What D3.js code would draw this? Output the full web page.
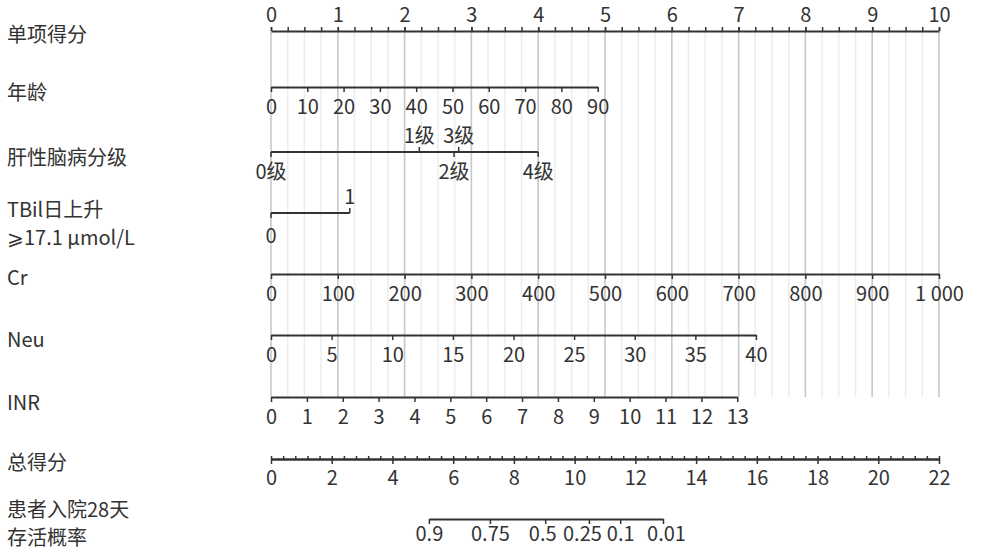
<!DOCTYPE html>
<html>
<head>
<meta charset="utf-8">
<script src="https://cdn.jsdelivr.net/npm/d3@7/dist/d3.min.js"></script>
<style>
  body { margin: 0; background: #fff; }
  svg text { font-family: "Noto Sans CJK SC", "Noto Sans", sans-serif; fill: #333; }
</style>
</head>
<body>
<svg id="chart" width="981" height="552"></svg>
<script>
// ---- data ----
var pointTicks = d3.range(0, 11);           // 单项得分 0..10
var pointMinor = d3.range(0, 10.01, 0.25);

var ageTicks = [0, 10, 20, 30, 40, 50, 60, 70, 80, 90];
var ageDomain = [0, 90], agePoints = [0, 4.89];

var heLevels = ["0级", "1级", "2级", "3级", "4级"];
var hePoints = [0, 2.22, 2.74, 2.81, 4.0];
var heSide   = ["below", "above", "below", "above", "below"];

var tbilLevels = ["0", "1"];
var tbilPoints = [0, 1.18];
var tbilSide   = ["below", "above"];

var crTicks = [0, 100, 200, 300, 400, 500, 600, 700, 800, 900, 1000];
var crDomain = [0, 1000], crPoints = [0, 10];

var neuTicks = [0, 5, 10, 15, 20, 25, 30, 35, 40];
var neuDomain = [0, 40], neuPoints = [0, 7.26];

var inrTicks = d3.range(0, 14);
var inrDomain = [0, 13], inrPoints = [0, 6.98];

var totalTicks = d3.range(0, 23, 2);
var totalMinor = d3.range(0, 22.01, 0.4);

var survProbs  = [0.9, 0.75, 0.5, 0.25, 0.1, 0.01];
var survTotals = [5.20, 7.21, 9.03, 10.47, 11.50, 12.91];

var rowLabels = [
  ["单项得分"], ["年龄"], ["肝性脑病分级"], ["TBil日上升", "⩾17.1 μmol/L"],
  ["Cr"], ["Neu"], ["INR"], ["总得分"], ["患者入院28天", "存活概率"]
];

// ---- layout ----
var rowY = [31, 87, 152, 213, 274, 335, 397, 459, 519];
var labelDy = [11, 13, 13, 4, 11, 12, 13, 11, -2];
var belowDy = [0, 0, 27, 30, 0, 0, 0, 0, 0];
var survLabelShift = [0, 0, -3, -7, 0, 3];
var x0 = 271, x1 = 939;
var fs = 20;

var svg = d3.select("#chart");
var pts = d3.scaleLinear().domain([0, 10]).range([x0, x1]);
var tot = d3.scaleLinear().domain([0, 22]).range([x0, x1]);
var fmt = d3.formatLocale({ decimal: ".", thousands: " ", grouping: [3], currency: ["", ""] }).format(",");

// grid
var grid = svg.append("g");
grid.selectAll("line.minor").data(pointMinor).enter().append("line")
  .attr("x1", d => pts(d)).attr("x2", d => pts(d))
  .attr("y1", rowY[0]).attr("y2", rowY[6])
  .attr("stroke", "#ececec").attr("stroke-width", 1.5);
grid.selectAll("line.major").data(pointTicks).enter().append("line")
  .attr("x1", d => pts(d)).attr("x2", d => pts(d))
  .attr("y1", rowY[0]).attr("y2", rowY[6])
  .attr("stroke", "#c8c8c8").attr("stroke-width", 1.5);

// row labels
rowLabels.forEach(function (lines, i) {
  var t = svg.append("text").attr("x", 7).attr("y", rowY[i] + labelDy[i]).attr("font-size", fs);
  lines.forEach(function (s, j) {
    t.append("tspan").attr("x", 7).attr("dy", j ? 28 : 0).text(s);
  });
});

function styleAxis(g) {
  g.select(".domain").attr("stroke", "#333").attr("stroke-width", 2);
  g.selectAll(".tick line").attr("stroke", "#333").attr("stroke-width", 1.5);
  g.selectAll(".tick text").attr("font-size", fs).attr("fill", "#333")
    .attr("font-family", '"Noto Sans CJK SC", sans-serif');
}

function varAxis(y, scale, ticks, format, pad) {
  var g = svg.append("g").attr("transform", "translate(0," + y + ")")
    .call(d3.axisBottom(scale).tickValues(ticks).tickSize(5).tickSizeOuter(0)
      .tickPadding(pad == null ? 8 : pad)
      .tickFormat(format || (d => d)));
  styleAxis(g);
  return g;
}

// 单项得分 axis
svg.append("g").attr("transform", "translate(0," + rowY[0] + ")")
  .call(d3.axisTop(pts).tickValues(pointMinor).tickSize(4).tickSizeOuter(0).tickFormat(""))
  .call(styleAxis);
svg.append("g").attr("transform", "translate(0," + rowY[0] + ")")
  .call(d3.axisTop(pts).tickValues(pointTicks).tickSize(4).tickSizeOuter(0).tickPadding(5))
  .call(g => { styleAxis(g); g.select(".domain").remove(); });

// 年龄
var ageScale = d3.scaleLinear().domain(ageDomain).range(agePoints.map(pts));
varAxis(rowY[1], ageScale, ageTicks);

// categorical rows
function catAxis(row, levels, points, side) {
  var y = rowY[row];
  var xs = points.map(pts);
  var g = svg.append("g").attr("transform", "translate(0," + y + ")");
  g.append("line").attr("x1", d3.min(xs)).attr("x2", d3.max(xs))
    .attr("stroke", "#333").attr("stroke-width", 2);
  var t = g.selectAll("g.tick").data(levels).enter().append("g")
    .attr("transform", (d, i) => "translate(" + xs[i] + ",0)");
  t.append("line").attr("y2", (d, i) => side[i] === "above" ? -5 : 5)
    .attr("stroke", "#333").attr("stroke-width", 1.5);
  t.append("text").attr("text-anchor", "middle").attr("font-size", fs)
    .attr("y", (d, i) => side[i] === "above" ? -9 : belowDy[row])
    .text(d => d);
}
catAxis(2, heLevels, hePoints, heSide);
catAxis(3, tbilLevels, tbilPoints, tbilSide);

// Cr, Neu, INR
varAxis(rowY[4], d3.scaleLinear().domain(crDomain).range(crPoints.map(pts)), crTicks, fmt);
varAxis(rowY[5], d3.scaleLinear().domain(neuDomain).range(neuPoints.map(pts)), neuTicks);
varAxis(rowY[6], d3.scaleLinear().domain(inrDomain).range(inrPoints.map(pts)), inrTicks);

// 总得分
svg.append("g").attr("transform", "translate(0," + rowY[7] + ")")
  .call(d3.axisTop(tot).tickValues(totalMinor).tickSize(3).tickSizeOuter(0).tickFormat(""))
  .call(styleAxis);
varAxis(rowY[7], tot, totalTicks, null, 7);

// 存活概率
var survScale = d3.scaleLinear().domain(survProbs).range(survTotals.map(tot));
varAxis(rowY[8], survScale, survProbs, d => String(d), 3)
  .selectAll(".tick text").attr("dx", (d, i) => survLabelShift[i]);
</script>
</body>
</html>
